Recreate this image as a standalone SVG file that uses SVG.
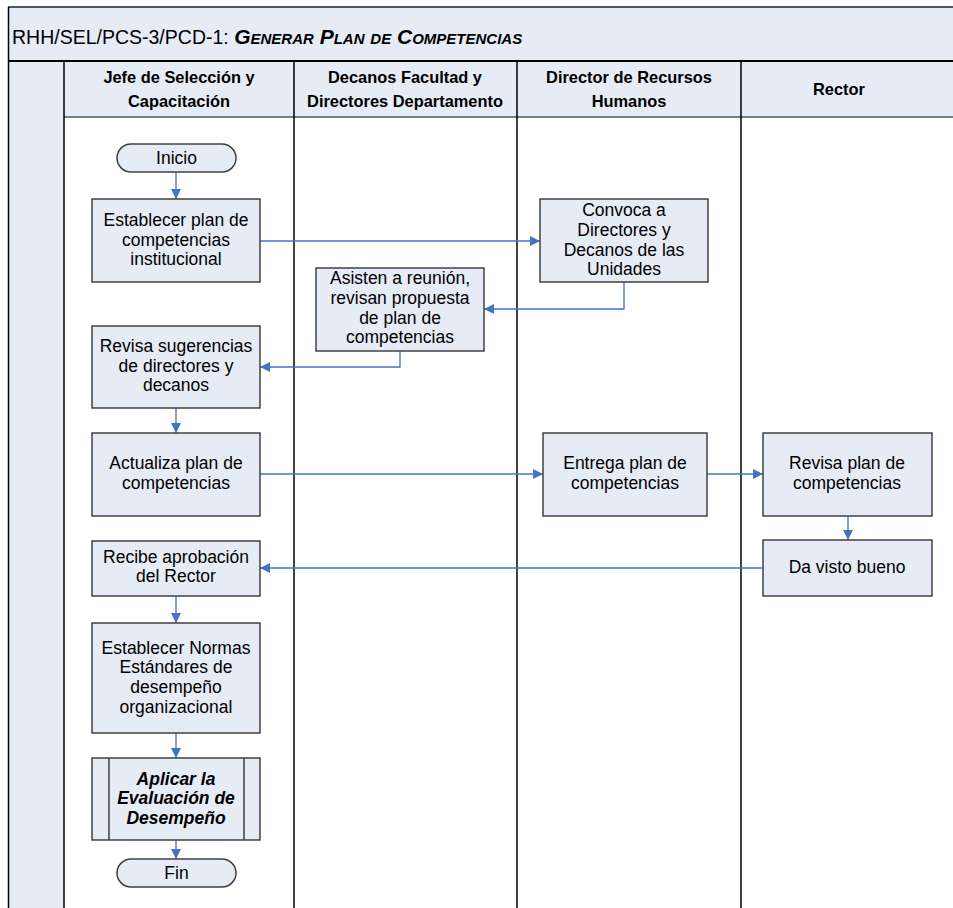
<svg xmlns="http://www.w3.org/2000/svg" width="953" height="908" viewBox="0 0 953 908">
<defs>
<marker id="ah" markerWidth="10" markerHeight="10" refX="10" refY="5" orient="auto" markerUnits="userSpaceOnUse">
<path d="M0,0 L10,5 L0,10 Z" fill="#4472C4"/>
</marker>
<style>
.t{font-family:"Liberation Sans",Arial,sans-serif;font-size:17.5px;fill:#000;text-anchor:middle}
.h{font-family:"Liberation Sans",Arial,sans-serif;font-size:16.4px;font-weight:bold;fill:#000;text-anchor:middle}
.bx{fill:#E6ECF6;stroke:#404040;stroke-width:1.5}
.c{fill:none;stroke:#4472C4;stroke-width:1.3}
.ln{stroke:#000;stroke-width:1.5}
</style>
</defs>
<rect width="953" height="908" fill="#fff"/>
<!-- frame -->
<g id="frame">
<rect x="8" y="7" width="950" height="54" fill="#E6ECF6"/>
<rect x="8" y="61" width="950" height="56" fill="#E6ECF6"/>
<rect x="8" y="117" width="56" height="795" fill="#E6ECF6"/>
<line x1="8" y1="7" x2="953" y2="7" stroke="#555" stroke-width="2"/>
<line x1="8" y1="61" x2="953" y2="61" stroke="#000" stroke-width="2"/>
<line x1="64" y1="117" x2="953" y2="117" stroke="#555" stroke-width="1.5"/>
<line x1="8.5" y1="7" x2="8.5" y2="908" class="ln"/>
<line x1="64" y1="61" x2="64" y2="908" class="ln"/>
<line x1="294" y1="61" x2="294" y2="908" class="ln"/>
<line x1="517" y1="61" x2="517" y2="908" class="ln"/>
<line x1="741" y1="61" x2="741" y2="908" class="ln"/>
<text x="12" y="44" font-family="Liberation Sans,Arial,sans-serif" font-size="19.5" fill="#000">RHH/SEL/PCS-3/PCD-1: <tspan font-size="21" font-weight="bold" font-style="italic" font-variant="small-caps">Generar Plan de Competencias</tspan></text>
<text class="h" x="179" y="83">Jefe de Selección y</text>
<text class="h" x="179" y="107">Capacitación</text>
<text class="h" x="405" y="83">Decanos Facultad y</text>
<text class="h" x="405" y="107">Directores Departamento</text>
<text class="h" x="629" y="83">Director de Recursos</text>
<text class="h" x="629" y="107">Humanos</text>
<text class="h" x="839" y="95">Rector</text>
</g>
<!-- connectors -->
<g id="connectors">
<path class="c" d="M176,172 V199" marker-end="url(#ah)"/>
<path class="c" d="M260,241 H540" marker-end="url(#ah)"/>
<path class="c" d="M624,282 V309 H484" marker-end="url(#ah)"/>
<path class="c" d="M400,351 V367 H260" marker-end="url(#ah)"/>
<path class="c" d="M176,408 V433" marker-end="url(#ah)"/>
<path class="c" d="M260,474 H543" marker-end="url(#ah)"/>
<path class="c" d="M707,474 H763" marker-end="url(#ah)"/>
<path class="c" d="M848,516 V540" marker-end="url(#ah)"/>
<path class="c" d="M763,568 H260" marker-end="url(#ah)"/>
<path class="c" d="M176,596 V623" marker-end="url(#ah)"/>
<path class="c" d="M176,733 V758" marker-end="url(#ah)"/>
<path class="c" d="M176,840 V859" marker-end="url(#ah)"/>
</g>
<g id="inicio">
<rect class="bx" x="117" y="144" width="119" height="28" rx="14"/>
<text class="t" x="176.5" y="164">Inicio</text>
</g>
<g id="establecer_plan">
<rect class="bx" x="92" y="199" width="168" height="83"/>
<text class="t" x="176" y="226">Establecer plan de</text>
<text class="t" x="176" y="246">competencias</text>
<text class="t" x="176" y="265">institucional</text>
</g>
<g id="convoca">
<rect class="bx" x="540" y="199" width="168" height="83"/>
<text class="t" x="624" y="216">Convoca a</text>
<text class="t" x="624" y="236">Directores y</text>
<text class="t" x="624" y="256">Decanos de las</text>
<text class="t" x="624" y="275">Unidades</text>
</g>
<g id="asisten">
<rect class="bx" x="316" y="268" width="168" height="83"/>
<text class="t" x="400" y="284">Asisten a reunión,</text>
<text class="t" x="400" y="304">revisan propuesta</text>
<text class="t" x="400" y="324">de plan de</text>
<text class="t" x="400" y="343">competencias</text>
</g>
<g id="revisa_sugerencias">
<rect class="bx" x="92" y="326" width="168" height="82"/>
<text class="t" x="176" y="352">Revisa sugerencias</text>
<text class="t" x="176" y="372">de directores y</text>
<text class="t" x="176" y="391">decanos</text>
</g>
<g id="actualiza">
<rect class="bx" x="92" y="433" width="168" height="83"/>
<text class="t" x="176" y="469">Actualiza plan de</text>
<text class="t" x="176" y="489">competencias</text>
</g>
<g id="entrega">
<rect class="bx" x="543" y="433" width="164" height="83"/>
<text class="t" x="625" y="469">Entrega plan de</text>
<text class="t" x="625" y="489">competencias</text>
</g>
<g id="revisa_plan">
<rect class="bx" x="763" y="433" width="169" height="83"/>
<text class="t" x="847" y="469">Revisa plan de</text>
<text class="t" x="847" y="489">competencias</text>
</g>
<g id="da_visto">
<rect class="bx" x="763" y="540" width="169" height="56"/>
<text class="t" x="847" y="573">Da visto bueno</text>
</g>
<g id="recibe">
<rect class="bx" x="92" y="541" width="168" height="55"/>
<text class="t" x="176" y="563">Recibe aprobación</text>
<text class="t" x="176" y="582">del Rector</text>
</g>
<g id="normas">
<rect class="bx" x="92" y="623" width="168" height="110"/>
<text class="t" x="176" y="654">Establecer Normas</text>
<text class="t" x="176" y="673">Estándares de</text>
<text class="t" x="176" y="693">desempeño</text>
<text class="t" x="176" y="713">organizacional</text>
</g>
<g id="aplicar">
<rect class="bx" x="92" y="758" width="168" height="82"/>
<line x1="109" y1="758" x2="109" y2="840" stroke="#404040" stroke-width="1.5"/>
<line x1="244" y1="758" x2="244" y2="840" stroke="#404040" stroke-width="1.5"/>
<text class="t" x="176" y="785" font-size="17" font-weight="bold" font-style="italic">Aplicar la</text>
<text class="t" x="176" y="804" font-size="17" font-weight="bold" font-style="italic">Evaluación de</text>
<text class="t" x="176" y="824" font-size="17" font-weight="bold" font-style="italic">Desempeño</text>
</g>
<g id="fin">
<rect class="bx" x="117" y="859" width="119" height="28" rx="14"/>
<text class="t" x="176.5" y="879">Fin</text>
</g>
</svg>
